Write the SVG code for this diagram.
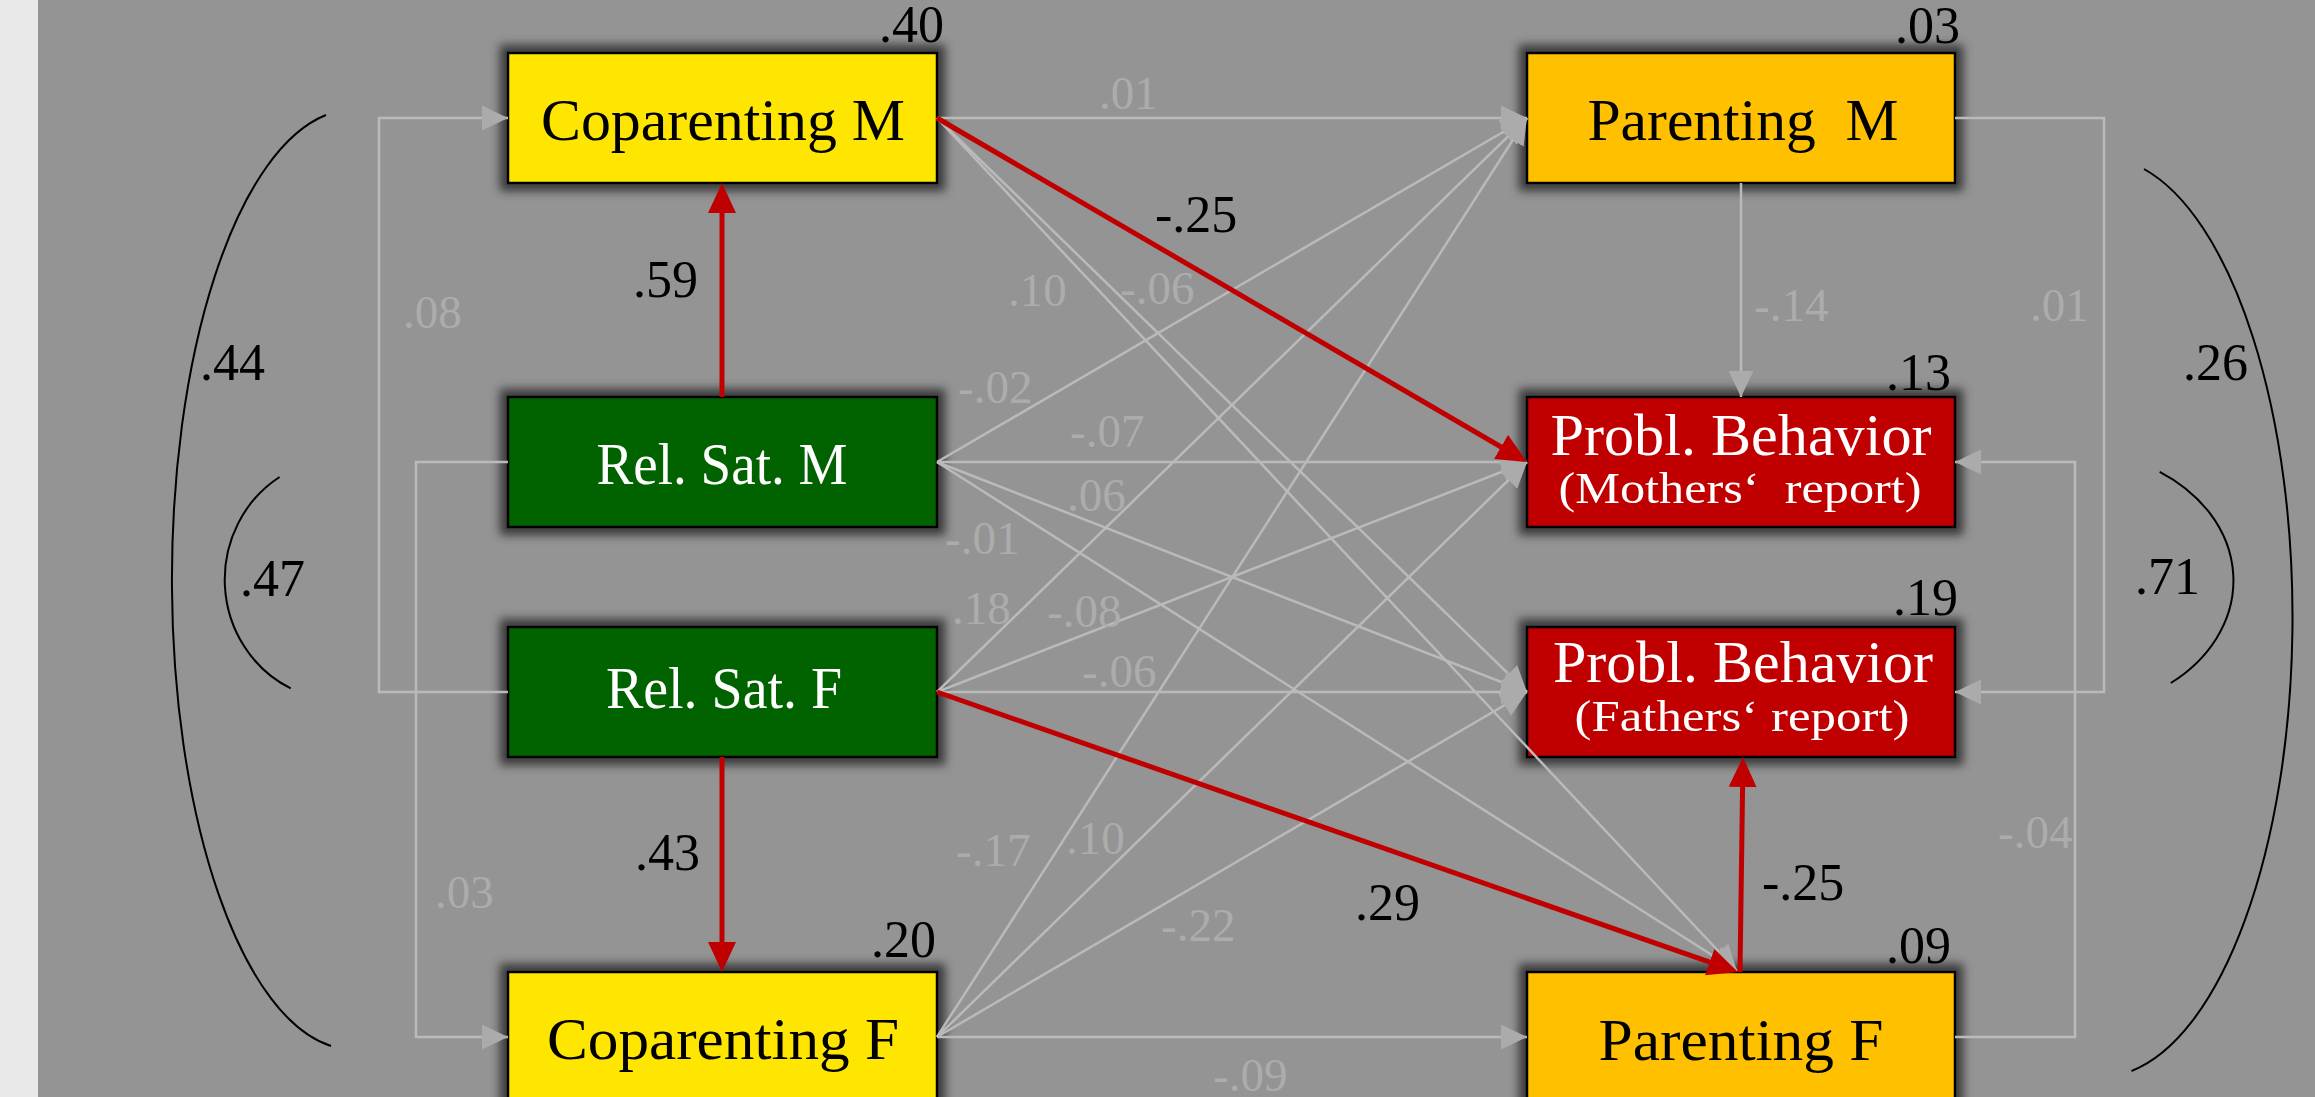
<svg xmlns="http://www.w3.org/2000/svg" width="2315" height="1097" viewBox="0 0 2315 1097">
<style>
.t{font-family:"Liberation Serif","Times New Roman",serif}
.nl{font-size:60px;text-anchor:middle}
.sub{font-size:45px;text-anchor:middle}
.blk{font-size:52px;fill:#000}
.gry{font-size:47px;fill:#acacac}
.box{stroke:#000;stroke-width:2.5}
.gl{stroke:#bababa;stroke-width:2.5;fill:none}
.rl{stroke:#c00000;stroke-width:5;fill:none}
.cv{stroke:#000;stroke-width:2;fill:none}
</style>
<defs>
<filter id="glow" x="-10%" y="-30%" width="120%" height="160%">
<feMorphology in="SourceAlpha" operator="dilate" radius="7" result="d"/>
<feGaussianBlur in="d" stdDeviation="5" result="b"/>
<feFlood flood-color="#3a3a3a" result="c"/>
<feComposite in="c" in2="b" operator="in" result="sh"/>
<feMerge><feMergeNode in="sh"/><feMergeNode in="SourceGraphic"/></feMerge>
</filter>
<marker id="ag" markerUnits="userSpaceOnUse" viewBox="0 0 26 25" markerWidth="26" markerHeight="25" refX="26" refY="12.5" orient="auto">
<path d="M0,0 L26,12.5 L0,25 z" fill="#ababab"/>
</marker>
<marker id="ar" markerUnits="userSpaceOnUse" viewBox="0 0 30 28" markerWidth="30" markerHeight="28" refX="22" refY="14" orient="auto">
<path d="M0,0 L30,14 L0,28 z" fill="#c00000"/>
</marker>
</defs>
<rect x="0" y="0" width="2315" height="1097" fill="#949494"/>
<rect x="0" y="0" width="38" height="1097" fill="#e9e9e9"/>

<g id="node-coparenting-m" filter="url(#glow)">
<rect class="box" x="508" y="53" width="429" height="130" fill="#ffe600"/>
<text class="t nl" x="723" y="140" textLength="364" lengthAdjust="spacingAndGlyphs" fill="#000">Coparenting M</text>
</g>
<g id="node-relsat-m" filter="url(#glow)">
<rect class="box" x="508" y="397" width="429" height="130" fill="#006400"/>
<text class="t nl" x="722" y="484" textLength="251" lengthAdjust="spacingAndGlyphs" fill="#fff">Rel. Sat. M</text>
</g>
<g id="node-relsat-f" filter="url(#glow)">
<rect class="box" x="508" y="627" width="429" height="130" fill="#006400"/>
<text class="t nl" x="724" y="708" textLength="236" lengthAdjust="spacingAndGlyphs" fill="#fff">Rel. Sat. F</text>
</g>
<g id="node-coparenting-f" filter="url(#glow)">
<rect class="box" x="508" y="972" width="429" height="130" fill="#ffe600"/>
<text class="t nl" x="723" y="1059" textLength="352" lengthAdjust="spacingAndGlyphs" fill="#000">Coparenting F</text>
</g>
<g id="node-parenting-m" filter="url(#glow)">
<rect class="box" x="1527" y="53" width="428" height="130" fill="#ffc000"/>
<text class="t nl" x="1743" y="140" textLength="311" lengthAdjust="spacingAndGlyphs" fill="#000" xml:space="preserve">Parenting  M</text>
</g>
<g id="node-probl-m" filter="url(#glow)">
<rect class="box" x="1527" y="397" width="428" height="130" fill="#c00000"/>
<text class="t nl" x="1741" y="455" textLength="381" lengthAdjust="spacingAndGlyphs" fill="#fff">Probl. Behavior</text>
<text class="t sub" x="1740" y="503" textLength="363" lengthAdjust="spacingAndGlyphs" fill="#fff" xml:space="preserve">(Mothers‘  report)</text>
</g>
<g id="node-probl-f" filter="url(#glow)">
<rect class="box" x="1527" y="627" width="428" height="130" fill="#c00000"/>
<text class="t nl" x="1743" y="682" textLength="380" lengthAdjust="spacingAndGlyphs" fill="#fff">Probl. Behavior</text>
<text class="t sub" x="1742" y="731" textLength="335" lengthAdjust="spacingAndGlyphs" fill="#fff">(Fathers‘ report)</text>
</g>
<g id="node-parenting-f" filter="url(#glow)">
<rect class="box" x="1527" y="972" width="428" height="130" fill="#ffc000"/>
<text class="t nl" x="1741" y="1060" textLength="285" lengthAdjust="spacingAndGlyphs" fill="#000">Parenting F</text>
</g>

<g id="connectors">
<path class="gl" d="M508,692 H379 V118 H508" marker-end="url(#ag)"/>
<path class="gl" d="M508,462 H416 V1037 H508" marker-end="url(#ag)"/>
<path class="gl" d="M1955,118 H2104 V692 H1955" marker-end="url(#ag)"/>
<path class="gl" d="M1955,1037 H2075 V462 H1955" marker-end="url(#ag)"/>
<path class="gl" d="M1741,183 L1741,397" marker-end="url(#ag)"/>
<path class="gl" d="M937,118 L1527,118" marker-end="url(#ag)"/>
<path class="gl" d="M937,118 L1527,692" marker-end="url(#ag)"/>
<path class="gl" d="M937,118 L1737,971" marker-end="url(#ag)"/>
<path class="gl" d="M937,462 L1527,118" marker-end="url(#ag)"/>
<path class="gl" d="M937,462 L1527,462" marker-end="url(#ag)"/>
<path class="gl" d="M937,462 L1527,692" marker-end="url(#ag)"/>
<path class="gl" d="M937,462 L1737,971" marker-end="url(#ag)"/>
<path class="gl" d="M937,692 L1527,118" marker-end="url(#ag)"/>
<path class="gl" d="M937,692 L1527,462" marker-end="url(#ag)"/>
<path class="gl" d="M937,692 L1527,692" marker-end="url(#ag)"/>
<path class="gl" d="M937,1037 L1527,118" marker-end="url(#ag)"/>
<path class="gl" d="M937,1037 L1527,462" marker-end="url(#ag)"/>
<path class="gl" d="M937,1037 L1527,692" marker-end="url(#ag)"/>
<path class="gl" d="M937,1037 L1527,1037" marker-end="url(#ag)"/>
<path class="rl" d="M722,397 L722,191" marker-end="url(#ar)"/>
<path class="rl" d="M722,757 L722,964" marker-end="url(#ar)"/>
<path class="rl" d="M937,118 L1520,458" marker-end="url(#ar)"/>
<path class="rl" d="M937,692 L1730.4,969.4" marker-end="url(#ar)"/>
<path class="rl" d="M1740,972 L1742.9,765" marker-end="url(#ar)"/>
<path class="cv" d="M326,115 A181.5,470 0 0 0 331,1046"/>
<path class="cv" d="M279.6,477 A117,121 0 0 0 290.7,688.4"/>
<path class="cv" d="M2144,169 A192,460 0 0 1 2131.5,1071"/>
<path class="cv" d="M2159.7,471.8 A163,130 0 0 1 2170.8,683"/>
</g>

<g id="labels" class="t">
<text class="blk" x="879" y="42">.40</text>
<text class="blk" x="1895" y="43">.03</text>
<text class="blk" x="1886" y="390">.13</text>
<text class="blk" x="1893" y="615">.19</text>
<text class="blk" x="1886" y="963">.09</text>
<text class="blk" x="871" y="957">.20</text>
<text class="blk" x="633" y="297">.59</text>
<text class="blk" x="635" y="870">.43</text>
<text class="blk" x="1155" y="232">-.25</text>
<text class="blk" x="1762" y="900">-.25</text>
<text class="blk" x="1355" y="920">.29</text>
<text class="blk" x="200" y="380">.44</text>
<text class="blk" x="240" y="596">.47</text>
<text class="blk" x="2183" y="380">.26</text>
<text class="blk" x="2135" y="594">.71</text>
<text class="gry" x="1099" y="109">.01</text>
<text class="gry" x="1008" y="306">.10</text>
<text class="gry" x="1120" y="304">-.06</text>
<text class="gry" x="958" y="403">-.02</text>
<text class="gry" x="1070" y="447">-.07</text>
<text class="gry" x="1067" y="511">.06</text>
<text class="gry" x="945" y="554">-.01</text>
<text class="gry" x="952" y="624">.18</text>
<text class="gry" x="1047" y="627">-.08</text>
<text class="gry" x="1082" y="687">-.06</text>
<text class="gry" x="956" y="866">-.17</text>
<text class="gry" x="1066" y="854">.10</text>
<text class="gry" x="1161" y="941">-.22</text>
<text class="gry" x="1213" y="1091">-.09</text>
<text class="gry" x="403" y="328">.08</text>
<text class="gry" x="435" y="908">.03</text>
<text class="gry" x="1754" y="321">-.14</text>
<text class="gry" x="2030" y="321">.01</text>
<text class="gry" x="1998" y="848">-.04</text>
</g>
</svg>
